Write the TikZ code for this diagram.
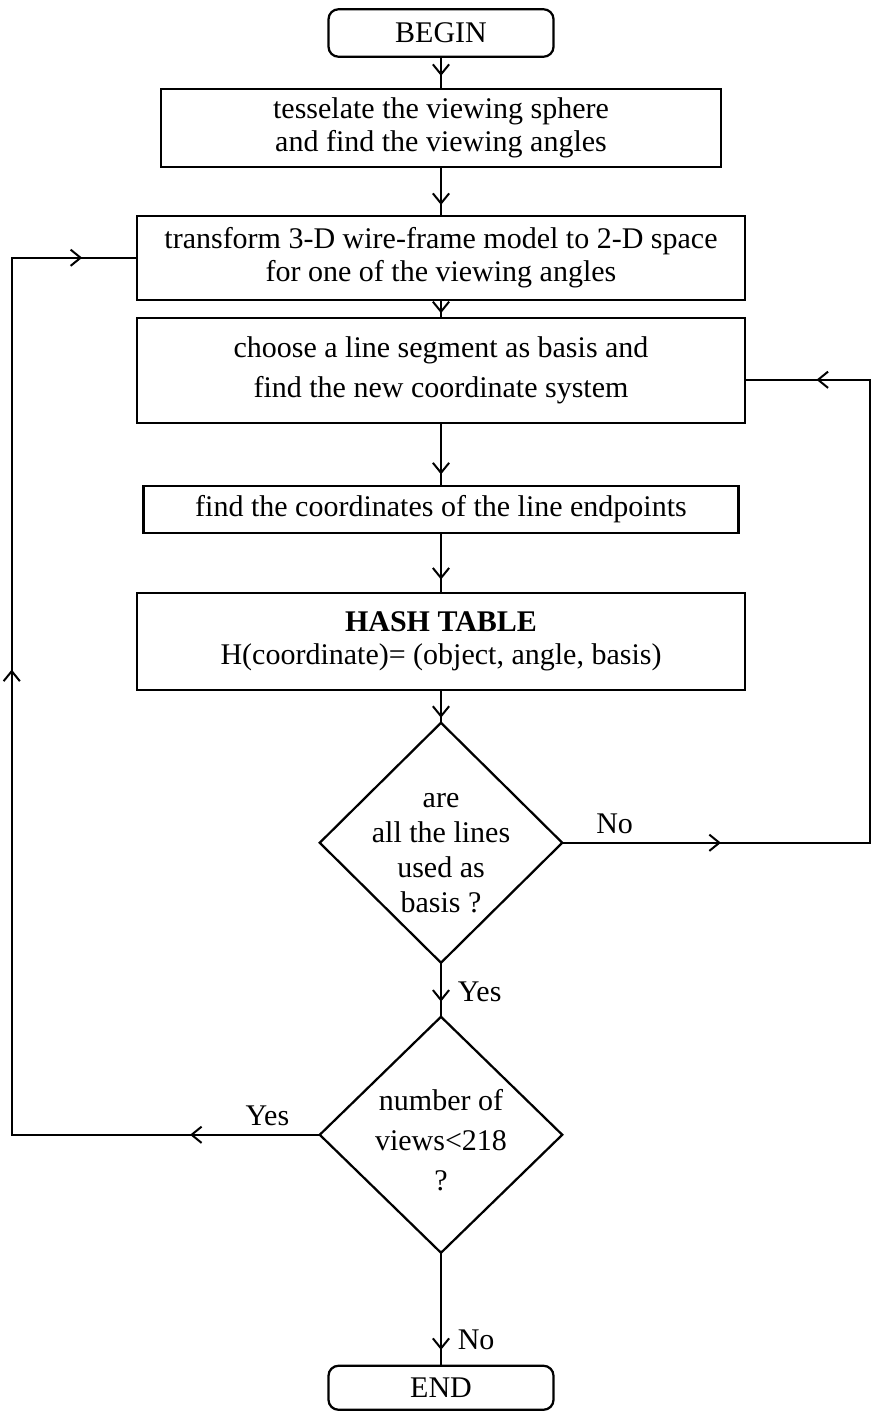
\documentclass[tikz,border=0pt]{standalone}
\usepackage{fontspec}
\setmainfont{Liberation Serif}
\usetikzlibrary{shapes.geometric,arrows.meta,positioning,decorations.markings}

\begin{document}
\begin{tikzpicture}[
  x=0.4pt, y=0.4pt,
  node distance=22pt,
  every node/.style={font=\fontsize{12pt}{13.5pt}\selectfont},
  term/.style={draw, rounded corners=4pt, line width=0.9pt, outer sep=0pt,
               minimum width=90pt, minimum height=19pt, inner sep=1pt},
  block/.style={draw, line width=0.9pt, minimum width=243pt, outer sep=0pt,
                align=center, inner xsep=1pt, inner ysep=2pt},
  decision/.style={draw, diamond, line width=0.9pt, outer sep=0pt,
                   minimum width=97pt, inner sep=0pt},
  tip/.style={postaction={decorate, decoration={markings,
              mark=at position #1 with {\arrow{Straight Barb[length=4pt, width=6.5pt]}}}}},
  line/.style={line width=0.8pt}
]
\useasboundingbox (0,0) rectangle (873,-1413);

\node[term] (begin) at (441,-33) {BEGIN};
\node[block, minimum width=224pt, minimum height=31.2pt, below=12.8pt of begin] (tess)
  {tesselate the viewing sphere\\and find the viewing angles};
\node[block, minimum height=33.6pt, below=19.6pt of tess] (trans)
  {transform 3-D wire-frame model to 2-D space\\for one of the viewing angles};
\node[block, minimum height=42pt, below=7.2pt of trans,
      font=\fontsize{12pt}{16pt}\selectfont] (choose)
  {choose a line segment as basis and\\find the new coordinate system};
\node[block, minimum width=238pt, minimum height=18.8pt, below=25.2pt of choose] (find)
  {find the coordinates of the line endpoints};
\node[block, minimum height=38.8pt, below=24pt of find] (hash)
  {\textbf{HASH TABLE}\\H(coordinate)= (object, angle, basis)};

\node[decision, minimum height=96pt, below=13.2pt of hash] (used) {};
\node[align=center, font=\fontsize{12pt}{14pt}\selectfont] (usedtxt)
  at ([yshift=-4.2pt]used.center) {are\\all the lines\\used as\\basis ?};
\node[decision, minimum height=94.4pt, below=21.6pt of used] (views) {};
\node[align=center, font=\fontsize{12pt}{16pt}\selectfont] (viewstxt)
  at ([yshift=-2pt]views.center) {number of\\views<218\\?};
\node[term, minimum height=17.6pt, below=45.2pt of views] (end) {END};

\coordinate (noturn) at ([xshift=123.2pt]used.east);
\coordinate (yesturn) at ([xshift=-123.2pt]views.west);

% main flow
\draw[line, tip=0.6] (begin) -- (tess);
\draw[line, tip=0.78] (tess) -- (trans);
\draw[line, tip=0.75] (trans) -- (choose);
\draw[line, tip=0.82] (choose) -- (find);
\draw[line, tip=0.78] (find) -- (hash);
\draw[line, tip=0.85] (hash) -- (used);
\draw[line, tip=0.72] (used) -- node[right, pos=0.54, xshift=3pt] {Yes} (views);
\draw[line, tip=0.86] (views) -- node[right, pos=0.77, xshift=3pt] {No} (end);

% loops back
\draw[line, tip=0.177, tip=0.92] (used.east) -- node[above, pos=0.17] {No} (noturn)
  |- ([yshift=-3.8pt]choose.east);
\draw[line, tip=0.099, tip=0.59, tip=0.958] (views.west) -- node[above, pos=0.17] {Yes} (yesturn)
  |- (trans.west);

\end{tikzpicture}
\end{document}
